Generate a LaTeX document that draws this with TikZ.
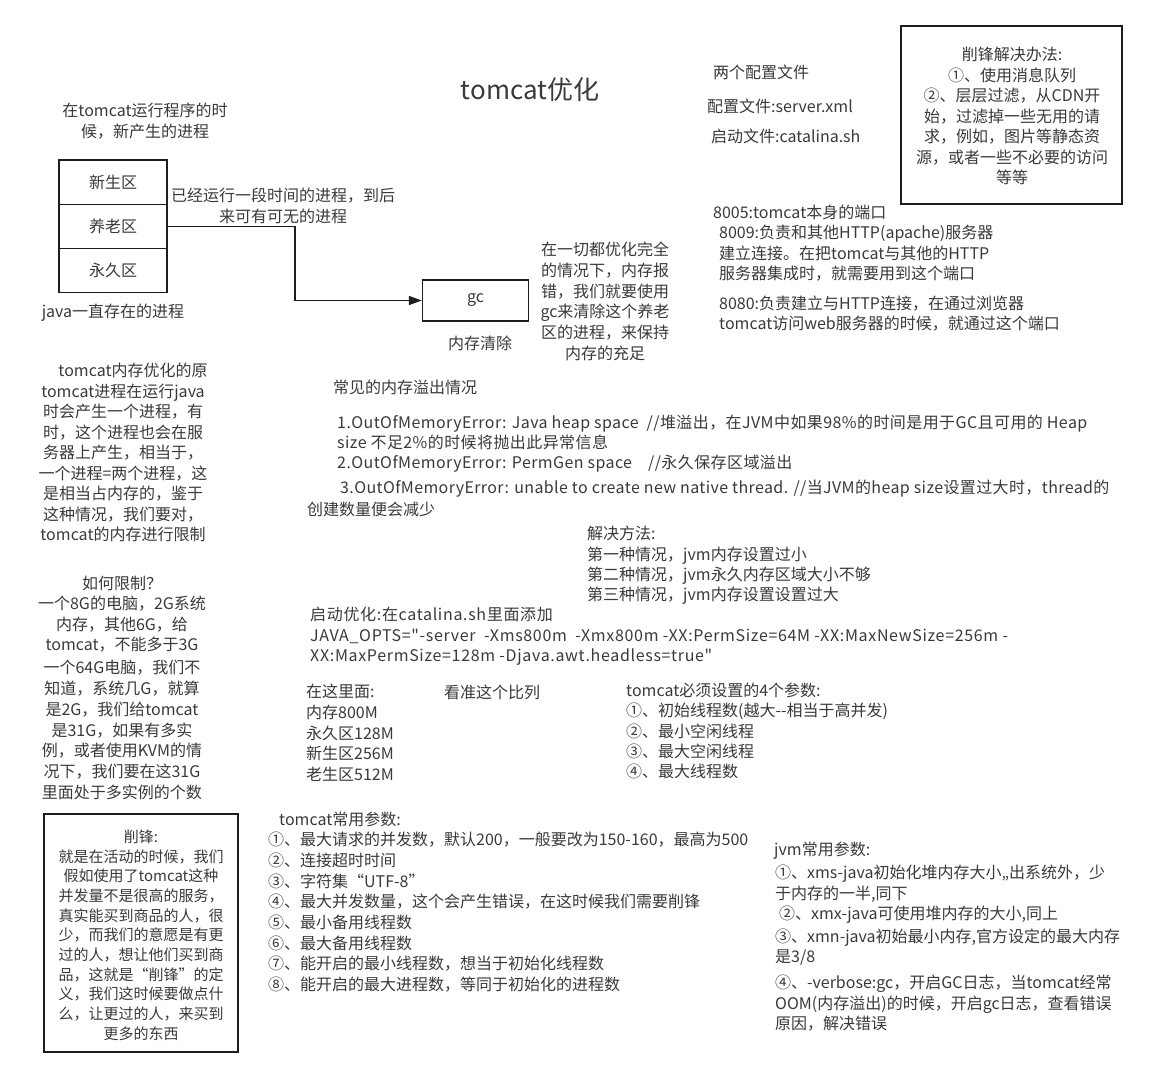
\documentclass[tikz,border=0pt]{standalone}
\usepackage{fontspec}
\setmainfont{Noto Sans CJK SC}
\usetikzlibrary{arrows.meta}
\definecolor{txt}{HTML}{3A3A3A}
\definecolor{ln}{HTML}{1E1E1E}
\newcommand\myfs[2]{\fontsize{#1}{#2}\selectfont}
\begin{document}
\begin{tikzpicture}[x=1pt,y=-1pt,
  every node/.style={text=txt, inner sep=0pt},
  blk/.style={align=left, anchor=north west, font=\myfs{16}{#1}},
  blk/.default=20.5,
  cblk/.style={align=center, anchor=north, font=\myfs{16}{#1}},
  cblk/.default=20.5,
  one/.style={anchor=west, font=\myfs{16}{20}},
  spaced/.style={font=\myfs{16}{20}\addfontfeature{LetterSpace=#1}},
  cell/.style={draw=ln, line width=1.3pt, minimum width=108pt, minimum height=44.3pt, font=\myfs{16}{20}},
  frame/.style={draw=ln, line width=1.6pt},
]
\useasboundingbox[fill=white] (0,0) rectangle (1156,1080);

% title
\node[font=\myfs{26}{30}] (title) at (530,90) {tomcat优化};

% memory areas
\node[cblk] (newnote) at (145,103) {在tomcat运行程序的时\\候，新产生的进程};
\node[cell] (young) at (113,182) {新生区};
\node[cell] (old) at (113,226.3) {养老区};
\node[cell] (perm) at (113,270.6) {永久区};
\node[font=\myfs{16}{20}] (javanote) at (113,313) {java一直存在的进程};
\node[cblk] (oldnote) at (283,188) {已经运行一段时间的进程，到后\\来可有可无的进程};

% gc
\node[draw=ln, line width=1.3pt, minimum width=106pt, minimum height=41pt, font=\myfs{16}{20}] (gc) at (475.5,300.5) {gc};
\node[font=\myfs{16}{20}] (gclabel) at (480,343) {内存清除};
\node[cblk=20.7] (gcnote) at (605,242) {在一切都优化完全\\的情况下，内存报\\错，我们就要使用\\gc来清除这个养老\\区的进程，来保持\\内存的充足};
\coordinate (bend) at (295,300.5);
\draw[ln, line width=1.4pt, -{Triangle[length=13pt,width=9pt]}] (old.east) -| (bend) -- (gc.west);

% config files
\node[one] (cfg0) at (713,72) {两个配置文件};
\node[one] (cfg1) at (707,106) {配置文件:server.xml};
\node[one] (cfg2) at (711,136) {启动文件:catalina.sh};

% peak box
\node[frame, minimum width=221pt, minimum height=178pt] (peakbox) at (1011.5,115) {};
\node[cblk] (peaktext) at (1012,47) {削锋解决办法:\\①、使用消息队列\\②、层层过滤，从CDN开\\始，过滤掉一些无用的请\\求，例如，图片等静态资\\源，或者一些不必要的访问\\等等};

% ports
\node[one] (p8005) at (713,212) {8005:tomcat本身的端口};
\node[blk] (p8009) at (719,225) {8009:负责和其他HTTP(apache)服务器\\建立连接。在把tomcat与其他的HTTP\\服务器集成时，就需要用到这个端口};
\node[blk=20] (p8080) at (719,296) {8080:负责建立与HTTP连接，在通过浏览器\\tomcat访问web服务器的时候，就通过这个端口};

% left column
\node[cblk] (reason) at (123,363) {\hspace*{20pt}tomcat内存优化的原\\tomcat进程在运行java\\时会产生一个进程，有\\时，这个进程也会在服\\务器上产生，相当于，\\一个进程=两个进程，这\\是相当占内存的，鉴于\\这种情况，我们要对，\\tomcat的内存进行限制};
\node[cblk=20.3] (limit1) at (122,576) {如何限制？\\一个8G的电脑，2G系统\\内存，其他6G，给\\tomcat，不能多于3G};
\node[cblk=20.8] (limit2) at (122,660) {一个64G电脑，我们不\\知道，系统几G，就算\\是2G，我们给tomcat\\是31G，如果有多实\\例，或者使用KVM的情\\况下，我们要在这31G\\里面处于多实例的个数};

% OOM
\node[one] (oomhead) at (333,387) {常见的内存溢出情况};
\node[blk=20, spaced=2.6] (oom12) at (337,415) {1.OutOfMemoryError: Java heap space\ \ //堆溢出，在JVM中如果98\%的时间是用于GC且可用的 Heap\\size 不足2\%的时候将抛出此异常信息\\2.OutOfMemoryError: PermGen space\ \ \ \ //永久保存区域溢出};
\node[one, spaced=2.4] (oom3) at (340,489) {3.OutOfMemoryError: unable to create new native thread. //当JVM的heap size设置过大时，thread的};
\node[one] (oom3b) at (307,509) {创建数量便会减少};

\node[blk=20.3] (solve) at (587,526) {解决方法:\\第一种情况，jvm内存设置过小\\第二种情况，jvm永久内存区域大小不够\\第三种情况，jvm内存设置设置过大};

\node[blk, font=\myfs{16}{20.5}\addfontfeature{LetterSpace=4.2,Ligatures=TeXOff}] (startopt) at (310,607) {启动优化:在catalina.sh里面添加\\JAVA\_OPTS="-server\ \ -Xms800m\ \ -Xmx800m -XX:PermSize=64M -XX:MaxNewSize=256m -\\XX:MaxPermSize=128m -Djava.awt.headless=true"};

\node[blk=20.7] (ratio) at (306,684) {在这里面:\\内存800M\\永久区128M\\新生区256M\\老生区512M};
\node[one] (ratiohd) at (444,692) {看准这个比列};

\node[blk=20.2] (must) at (626,683) {tomcat必须设置的4个参数:\\①、初始线程数(越大-{}-相当于高并发)\\②、最小空闲线程\\③、最大空闲线程\\④、最大线程数};

% tomcat params
\node[one] (tparhd) at (279,819) {tomcat常用参数:};
\node[blk=20.7] (tpar) at (268,832) {①、最大请求的并发数，默认200，一般要改为150-160，最高为500\\②、连接超时时间\\③、字符集“UTF-8”\\④、最大并发数量，这个会产生错误，在这时候我们需要削锋\\⑤、最小备用线程数\\⑥、最大备用线程数\\⑦、能开启的最小线程数，想当于初始化线程数\\⑧、能开启的最大进程数，等同于初始化的进程数};

% jvm params
\node[one] (jvmhd) at (774,851) {jvm常用参数:};
\node[blk=20.5] (jvm1) at (775,865) {①、xms-java初始化堆内存大小,,出系统外，少\\于内存的一半,同下\\\hspace*{4pt}②、xmx-java可使用堆内存的大小,同上};
\node[blk=20] (jvm2) at (775,929) {③、xmn-java初始最小内存,官方设定的最大内存\\是3/8};
\node[blk=20.5] (jvm3) at (775,975) {④、-verbose:gc，开启GC日志，当tomcat经常\\OOM(内存溢出)的时候，开启gc日志，查看错误\\原因，解决错误};

% peak definition box
\node[frame, minimum width=194pt, minimum height=238pt] (defbox) at (141,933) {};
\node[align=center, anchor=north, font=\myfs{15}{19.7}] (deftext) at (141,829.5) {削锋:\\就是在活动的时候，我们\\假如使用了tomcat这种\\并发量不是很高的服务，\\真实能买到商品的人，很\\少，而我们的意愿是有更\\过的人，想让他们买到商\\品，这就是“削锋”的定\\义，我们这时候要做点什\\么，让更过的人，来买到\\更多的东西};
\end{tikzpicture}
\end{document}
